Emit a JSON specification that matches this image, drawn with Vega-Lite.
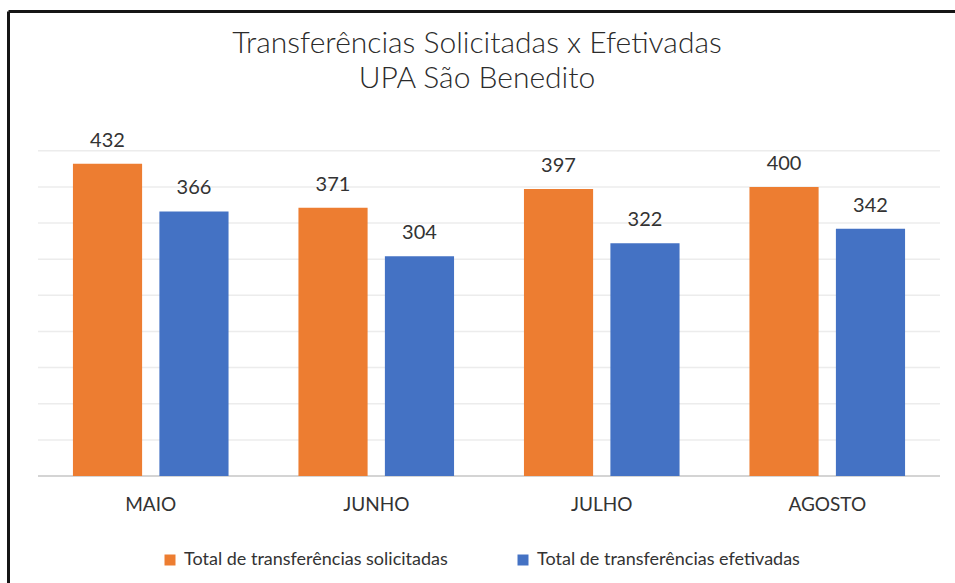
{
  "$schema": "https://vega.github.io/schema/vega-lite/v6.json",
  "usermeta": {"embedOptions": {"actions": false}},
  "autosize": {"type": "none"},
  "padding": {"left": 8, "top": 11, "right": -15, "bottom": -17},
  "width": 962,
  "height": 589,
  "background": "white",
  "config": {
    "view": {"stroke": null},
    "font": "Lato"
  },
  "title": {
    "text": ["Transferências Solicitadas x Efetivadas", "UPA São Benedito"],
    "fontSize": 30,
    "fontWeight": 300,
    "color": "#2b2b2b",
    "lineHeight": 35,
    "anchor": "middle",
    "offset": -83,
    "dx": -12
  },
  "datasets": {
    "bars": [
      {"mes": "MAIO", "serie": "Total de transferências solicitadas", "valor": 432},
      {"mes": "MAIO", "serie": "Total de transferências efetivadas", "valor": 366},
      {"mes": "JUNHO", "serie": "Total de transferências solicitadas", "valor": 371},
      {"mes": "JUNHO", "serie": "Total de transferências efetivadas", "valor": 304},
      {"mes": "JULHO", "serie": "Total de transferências solicitadas", "valor": 397},
      {"mes": "JULHO", "serie": "Total de transferências efetivadas", "valor": 322},
      {"mes": "AGOSTO", "serie": "Total de transferências solicitadas", "valor": 400},
      {"mes": "AGOSTO", "serie": "Total de transferências efetivadas", "valor": 342}
    ],
    "grid": [
      {"v": 0}, {"v": 50}, {"v": 100}, {"v": 150}, {"v": 200},
      {"v": 250}, {"v": 300}, {"v": 350}, {"v": 400}, {"v": 450}
    ]
  },
  "resolve": {"scale": {"x": "independent"}, "axis": {"x": "independent"}},
  "layer": [
    {
      "data": {"name": "grid"},
      "mark": {"type": "rule"},
      "encoding": {
        "x": {
          "datum": 0, "type": "quantitative",
          "scale": {"domain": [-0.03326, 1.03326], "nice": false, "zero": false},
          "axis": {"orient": "top", "title": null, "labels": false, "ticks": false, "grid": false, "domain": true, "domainColor": "#151515", "domainWidth": 3}
        },
        "x2": {"datum": 1},
        "y": {
          "field": "v", "type": "quantitative",
          "scale": {"domain": [-171.5, 643.3], "nice": false, "zero": false},
          "axis": {"orient": "left", "title": null, "labels": false, "ticks": false, "grid": false, "domain": true, "domainColor": "#151515", "domainWidth": 3}
        },
        "stroke": {"condition": {"test": "datum.v === 0", "value": "#d4d4d4"}, "value": "#ececec"},
        "strokeWidth": {"condition": {"test": "datum.v === 0", "value": 2}, "value": 1.5}
      }
    },
    {
      "data": {"name": "bars"},
      "layer": [
        {
          "mark": {"type": "bar"},
          "encoding": {
            "color": {
              "field": "serie", "type": "nominal",
              "sort": ["Total de transferências solicitadas", "Total de transferências efetivadas"],
              "scale": {"range": ["#ED7D31", "#4472C4"]},
              "legend": {
                "title": null, "orient": "none", "direction": "horizontal",
                "legendX": 153, "legendY": 540,
                "symbolType": "square", "symbolSize": 121, "symbolStrokeWidth": 0,
                "labelFontSize": 18, "labelColor": "#333333", "labelFont": "Lato",
                "labelOffset": 5, "columnPadding": 66, "padding": 0, "labelLimit": 400
              }
            }
          }
        },
        {
          "mark": {"type": "text", "baseline": "alphabetic", "dy": -17, "fontSize": 20, "color": "#333333", "font": "Lato"},
          "encoding": {
            "text": {"field": "valor", "type": "quantitative"}
          }
        }
      ],
      "encoding": {
        "x": {
          "field": "mes", "type": "nominal",
          "sort": ["MAIO", "JUNHO", "JULHO", "AGOSTO"],
          "scale": {"paddingInner": 0.31, "paddingOuter": 0.288},
          "axis": {
            "title": null, "orient": "bottom", "offset": -124,
            "domain": false, "ticks": false, "tickSize": 0,
            "labelPadding": 19, "labelFontSize": 19, "labelColor": "#333333",
            "labelAngle": 0, "labelFont": "Lato"
          }
        },
        "xOffset": {
          "field": "serie", "type": "nominal",
          "sort": ["Total de transferências solicitadas", "Total de transferências efetivadas"],
          "scale": {"paddingInner": 0.2, "paddingOuter": 0}
        },
        "y": {
          "field": "valor", "type": "quantitative",
          "scale": {"domain": [-171.5, 643.3], "nice": false, "zero": false},
          "axis": {"orient": "left", "title": null, "labels": false, "ticks": false, "grid": false, "domain": true, "domainColor": "#151515", "domainWidth": 3}
        }
      }
    }
  ]
}
